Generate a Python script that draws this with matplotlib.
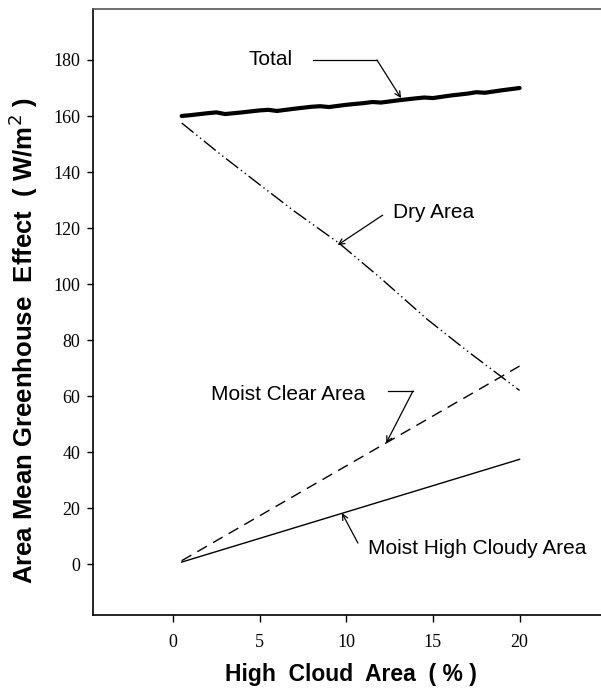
import numpy as np
import matplotlib
matplotlib.use('Agg')
import matplotlib.pyplot as plt

# data
x_total = [0.5, 1, 2, 2.5, 3, 4, 5, 5.5, 6, 7, 8, 8.5, 9, 10, 11, 11.5, 12, 13, 14, 14.5, 15, 16, 17, 17.5, 18, 19, 20]
y_total = [160, 160.3, 161, 161.3, 160.7, 161.3, 162, 162.2, 161.8, 162.6, 163.3, 163.5, 163.2, 164, 164.6, 165,
           164.8, 165.6, 166.3, 166.6, 166.4, 167.3, 168, 168.5, 168.3, 169.2, 170]
x_dry = [0.5, 2.7, 5, 7, 9.6, 12, 14.65, 17, 20]
y_dry = [157.5, 146.5, 135.5, 126, 114.5, 102, 87.5, 76, 62]
x_clear = [0.5, 20]
y_clear = [1.2, 70.7]
x_cloudy = [0.5, 20]
y_cloudy = [0.7, 37.4]

xticks = [0, 5, 10, 15, 20]
yticks = list(range(0, 181, 20))

sans = 'Liberation Sans'
serif = 'Liberation Serif'

fig = plt.figure(figsize=(6.01, 7.0), dpi=100)
ax = fig.add_axes([0.1547, 0.1214, 0.8453, 0.8653])

ax.plot(x_total, y_total, color='black', linewidth=3.0, solid_capstyle='round')
ax.plot(x_dry, y_dry, color='black', linewidth=1.0, dashes=(11, 2.5, 1, 2.5, 1, 2.5))
ax.plot(x_clear, y_clear, color='black', linewidth=1.0, dashes=(8, 5))
ax.plot(x_cloudy, y_cloudy, color='black', linewidth=1.0)

ax.set_xlim(-4.62, 24.7)
ax.set_ylim(-18.2, 198.1)
ax.set_xticks(xticks)
ax.set_yticks(yticks)
ax.tick_params(axis='x', direction='out', length=5, width=1, pad=9)
ax.tick_params(axis='y', direction='out', length=4, width=1, pad=5)
for lab in ax.get_xticklabels() + ax.get_yticklabels():
    lab.set_fontfamily(serif)
    lab.set_fontsize(13)

ax.spines['right'].set_visible(False)
ax.spines['top'].set_color('#555555')
ax.spines['top'].set_linewidth(1.2)
ax.spines['left'].set_linewidth(1.2)
ax.spines['bottom'].set_linewidth(1.2)

ap = dict(arrowstyle='->', color='black', linewidth=0.9, shrinkA=0, shrinkB=0)

# Total
ax.text(5.65, 180, 'Total', fontsize=15, family=sans, ha='center', va='center')
ax.plot([8.08, 11.77], [180, 180], color='black', linewidth=0.9)
ax.annotate('', xy=(13.16, 166.4), xytext=(11.77, 180), arrowprops=ap)

# Dry Area
ax.text(12.7, 125.5, 'Dry Area', fontsize=15, family=sans, ha='left', va='center')
ax.annotate('', xy=(9.5, 113.9), xytext=(12.1, 124.6), arrowprops=ap)

# Moist Clear Area
ax.text(2.2, 60.7, 'Moist Clear Area', fontsize=15, family=sans, ha='left', va='center')
ax.plot([12.4, 13.85], [61.8, 61.8], color='black', linewidth=0.9)
ax.annotate('', xy=(12.3, 43.2), xytext=(13.85, 61.8), arrowprops=ap)

# Moist High Cloudy Area
ax.text(11.25, 5.7, 'Moist High Cloudy Area', fontsize=15, family=sans, ha='left', va='center')
ax.annotate('', xy=(9.75, 18.2), xytext=(10.67, 7.5), arrowprops=ap)

fig.text(0.584, 0.036, 'High  Cloud  Area  ( % )', fontsize=16.5, family=sans,
         fontweight='bold', ha='center', va='center')
fig.text(0.038, 0.514, 'Area Mean Greenhouse  Effect  ( W/m$^2$ )', fontsize=18.5, family=sans,
         fontweight='bold', ha='center', va='center', rotation=90)

plt.savefig('out.png', dpi=100)
